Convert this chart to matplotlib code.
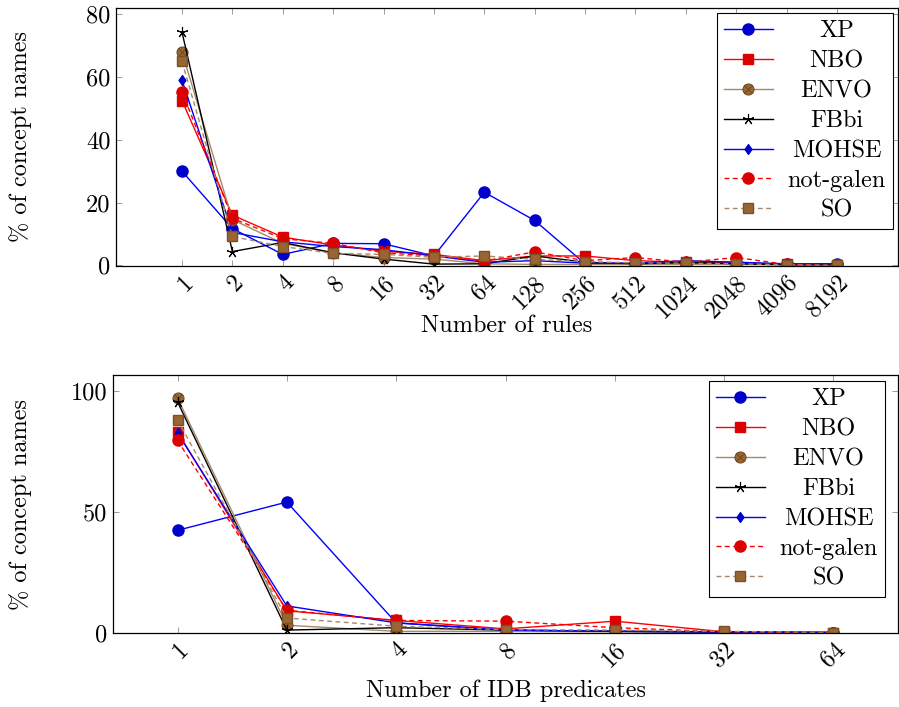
import matplotlib
matplotlib.use('Agg')
import matplotlib.pyplot as plt
from matplotlib.path import Path
import numpy as np

# data
rule_labels = ['1', '2', '4', '8', '16', '32', '64', '128', '256', '512',
               '1024', '2048', '4096', '8192']
rules_xp = [30, 11.7, 3.5, 7, 6.9, 3, 23.3, 14.3, 0.5, 0.5, 0.5, 0.5, 0.3, 0.5]
rules_nbo = [52.5, 16, 9, 6.5, 4.5, 3.5, 1.5, 3, 3, 1.5, 1, 1, 0.3, 0]
rules_envo = [68, 14.6, 7, 4, 2.5, 2, 0.5, 0.3, 0.3, 0.3, 0.3, 0.3, 0.2, 0]
rules_fbbi = [74.3, 4.4, 7.3, 4, 2, 0.4, 0.5, 3, 1, 0.5, 1, 0.5, 0.2, 0.2]
rules_mohse = [59, 10.5, 7.5, 6, 5, 3, 1, 1.5, 0.7, 0.7, 1.5, 1, 0.5, 0.5]
rules_galen = [55.3, 15, 8.5, 7, 4, 3, 1.4, 4.3, 1.5, 2.5, 1, 2.5, 0.3, 0]
rules_so = [65, 9.2, 6, 3.8, 3.5, 2.6, 3, 1.9, 1.2, 0.8, 0.7, 0.5, 0.2, 0]

idb_labels = ['1', '2', '4', '8', '16', '32', '64']
idb_xp = [42.3, 54, 4, 1, 0.5, 0.3, 0]
idb_nbo = [83, 9, 5, 1.5, 4.7, 0.3, 0]
idb_envo = [97, 3, 0.5, 0.5, 0.3, 0.2, 0]
idb_fbbi = [95.5, 1, 2, 1, 0.5, 0.2, 0]
idb_mohse = [82.6, 11, 4, 1, 0.5, 0.2, 0]
idb_galen = [79.5, 9.2, 5, 4.7, 2, 0.3, 0]
idb_so = [88, 6, 2.6, 1.2, 1, 0.5, 0]

names = ['XP', 'NBO', 'ENVO', 'FBbi', 'MOHSE', 'not-galen', 'SO']

plt.rcParams['font.family'] = ['cmr10', 'DejaVu Serif']
plt.rcParams['mathtext.fontset'] = 'cm'
plt.rcParams['axes.unicode_minus'] = False
plt.rcParams['font.size'] = 17.5

# circle with a cross inside (pgfplots otimes*)
d = 0.7071
otimes = Path.make_compound_path(
    Path.unit_circle(),
    Path([(-d, -d), (d, d)], [Path.MOVETO, Path.LINETO]),
    Path([(-d, d), (d, -d)], [Path.MOVETO, Path.LINETO]))
diamond = Path([(0, 1), (0.7, 0), (0, -1), (-0.7, 0), (0, 1)],
               [Path.MOVETO, Path.LINETO, Path.LINETO, Path.LINETO, Path.CLOSEPOLY])

dash = (0, (3.5, 2.5))
styles = [
    dict(color='#0000ff', marker='o', ms=8, mfc='#0000cc', mec='#0000cc'),
    dict(color='#ff0000', marker='s', ms=7, mfc='#dd0000', mec='#dd0000'),
    dict(color='#a8886a', marker=otimes, ms=8, mfc='#996633', mec='#6e4a24', mew=0.7),
    dict(color='black', marker=(5, 2, 0), ms=8, mfc='none', mec='black', mew=0.8),
    dict(color='#0000ff', marker=diamond, ms=7, mfc='#0000cc', mec='#0000cc'),
    dict(color='#ff0000', ls=dash, marker='o', ms=8, mfc='#dd0000', mec='#dd0000'),
    dict(color='#a8886a', ls=dash, marker='s', ms=7, mfc='#996633', mec='#7a5028'),
]

fig = plt.figure(figsize=(8.99, 7.07), dpi=100)
ax1 = fig.add_axes([116 / 899, 1 - 266 / 707, (898 - 116) / 899, (266 - 8) / 707])
ax2 = fig.add_axes([113 / 899, 1 - 633 / 707, (898 - 113) / 899, (633 - 375) / 707])


def draw_panel(ax, labels, series, xlim, ylim, yticks, xlabel, legend_anchor):
    x = np.arange(len(labels))
    for name, vals, st in zip(names, series, styles):
        ax.plot(x, vals, lw=1.0, label=name, **st)
    ax.set_xlim(*xlim)
    ax.set_ylim(*ylim)
    ax.set_xticks(x)
    ax.set_xticklabels(labels, rotation=45, ha='right', va='top',
                       rotation_mode='anchor')
    ax.set_yticks(yticks)
    ax.tick_params(direction='in', top=True, right=True, length=4.5, width=0.6,
                   color='0.55', pad=4)
    ax.set_xlabel(xlabel)
    ax.set_ylabel('% of concept names')
    for sp in ax.spines.values():
        sp.set_linewidth(0.9)
    leg = ax.legend(loc='upper right', bbox_to_anchor=legend_anchor,
                    frameon=True, fancybox=False, edgecolor='black',
                    framealpha=1, handlelength=2.0, handletextpad=0.6,
                    labelspacing=0.32, borderpad=0.3, borderaxespad=0)
    leg.get_frame().set_linewidth(0.8)
    return leg


leg1 = draw_panel(ax1, rule_labels,
                  [rules_xp, rules_nbo, rules_envo, rules_fbbi, rules_mohse,
                   rules_galen, rules_so],
                  (-1.31, 14.21), (-0.2, 82), [0, 20, 40, 60, 80],
                  'Number of rules', (0.9936, 0.9806))
leg2 = draw_panel(ax2, idb_labels,
                  [idb_xp, idb_nbo, idb_envo, idb_fbbi, idb_mohse,
                   idb_galen, idb_so],
                  (-0.59, 6.59), (-0.2, 106.6), [0, 50, 100],
                  'Number of IDB predicates', (0.9834, 0.9767))

ax1.xaxis.set_label_coords(0.5, -0.19)
ax2.xaxis.set_label_coords(0.5, -0.18)
ax1.yaxis.set_label_coords(-0.107, 0.5)
ax2.yaxis.set_label_coords(-0.103, 0.5)

# centre the legend entries like pgfplots does
fig.canvas.draw()
renderer = fig.canvas.get_renderer()
for leg in (leg1, leg2):
    texts = leg.get_texts()
    widths = [t.get_window_extent(renderer).width for t in texts]
    wmax = max(widths)
    for t, w in zip(texts, widths):
        t.set_x((wmax - w) / 2)

fig.savefig('out.png', dpi=100)
